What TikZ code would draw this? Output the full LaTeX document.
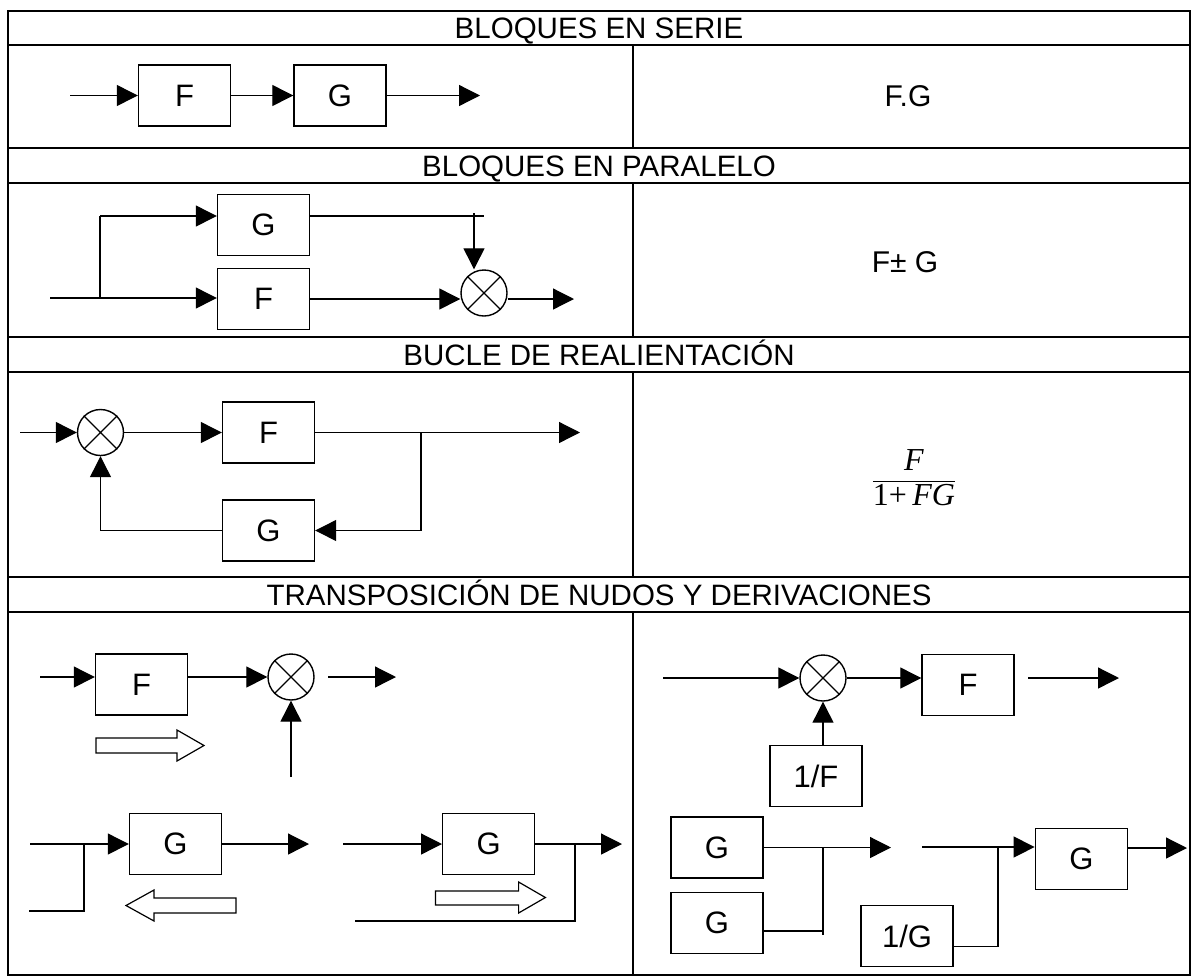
\documentclass[tikz,border=0pt]{standalone}
\usepackage{fontspec}
\setmainfont{Liberation Sans}
\newfontfamily\seriffont{Liberation Serif}
\usepackage{amsmath}
\usetikzlibrary{arrows.meta, positioning}
\tikzset{
  every node/.style={font=\fontsize{30}{35}\selectfont},
  % table rules and section titles
  grid/.style={line width=2pt},
  ttl/.style={anchor=base, font=\fontsize{29.5}{35}\selectfont},
  % diagram parts
  blk/.style={draw, line width=1.4pt, minimum width=92pt, minimum height=61pt,
              inner sep=0pt, font=\fontsize{31}{36}\selectfont},
  sum/.style={draw, circle, line width=1.4pt, minimum size=46pt, inner sep=0pt},
  sig/.style={line width=1.25pt},
  arr/.style={sig, -{Triangle[length=21pt, width=21pt]}},
  hollow/.style={draw, line width=1.2pt, fill=white},
}
\begin{document}
\begin{tikzpicture}[x=1pt, y=-1pt]
\useasboundingbox (0,0) rectangle (1196,978);

% table
\draw[grid] (8,11) rectangle (1190,975);
\foreach \y in {45,148,183,337,372,577,612}
  \draw[grid] (8,\y) -- (1190,\y);
\foreach \ya/\yb in {45/148, 183/337, 372/577, 612/975}
  \draw[grid] (633,\ya) -- (633,\yb);

\node[ttl] (t1) at (599,38.5)  {BLOQUES EN SERIE};
\node[ttl] (t2) at (599,176)   {BLOQUES EN PARALELO};
\node[ttl] (t3) at (599,365)   {BUCLE DE REALIENTACIÓN};
\node[ttl] (t4) at (599,605)   {TRANSPOSICIÓN DE NUDOS Y DERIVACIONES};

% serie
\node[blk] (f1) at (184.5,95.5) {F};
\node[blk] (g1) at (340,95.5) {G};
\coordinate (in1) at (70,95.5);
\coordinate (out1) at (480,95.5);
\draw[arr] (in1) -- (f1);
\draw[arr] (f1) -- (g1);
\draw[arr] (g1) -- (out1);
\node (r1) at (908,96) {F.G};

% paralelo
\node[blk] (g2) at (263.5,225) {G};
\node[blk] (f2) at (263.5,299) {F};
\node[sum] (s2) at (484,293) {};
\coordinate (in2) at (50,298);
\coordinate (b2) at (100,298);
\coordinate (b2t) at (100,216);
\coordinate (g2e) at (484,216);
\coordinate (tap2) at (474,213);
\coordinate (out2) at (574,299);
\draw[sig] (in2) -- (b2) -- (b2t);
\draw[arr] (b2) -- (b2 -| f2.west);
\draw[arr] (b2t) -- (b2t -| g2.west);
\draw[sig] (g2.east |- g2e) -- (g2e);
\draw[arr] (tap2) -- (tap2 |- s2.north);
\draw[arr] (f2.east) -- (f2.east -| s2.west);
\draw[arr] (s2.east |- out2) -- (out2);
\node (r2) at (905,262) {F± G};

% bucle
\coordinate (in3) at (20,432.5);
\node[sum] (s3) at (100.5,432.5) {};
\node[blk] (f3) at (268.5,432.5) {F};
\node[blk] (g3) at (268.5,530.5) {G};
\coordinate (b3) at (421,432.5);
\coordinate (out3) at (580,432.5);
\draw[arr] (in3) -- (s3);
\draw[arr] (s3) -- (f3);
\draw[arr] (f3) -- (out3);
\draw[arr] (b3) |- (g3);
\draw[arr] (g3) -| (s3);
\node (r3) at (914,478) {\fontsize{32}{38}\selectfont
  $\dfrac{\text{\seriffont\itshape F}}{\text{\seriffont 1+\,\itshape FG}}$};

% transposicion: nudo antes del bloque
\coordinate (in4) at (40,677);
\node[blk] (f4) at (141.5,684.5) {F};
\node[sum] (s4) at (291,677) {};
\coordinate (o4a) at (328,677);
\coordinate (o4b) at (396,677);
\coordinate (u4) at (291,777);
\draw[arr] (in4) -- (in4 -| f4.west);
\draw[arr] (f4.east |- in4) -- (s4);
\draw[arr] (o4a) -- (o4b);
\draw[arr] (u4) -- (s4);
\draw[hollow] (96,738) -- (177,738) -- (177,730) -- (204,745.5) -- (177,761) -- (177,753) -- (96,753) -- cycle;

% derivacion antes del bloque
\node[blk] (g4a) at (175.5,844) {G};
\coordinate (in4a) at (30,844);
\coordinate (b4a) at (84,844);
\coordinate (d4a) at (84,911);
\coordinate (l4a) at (29,911);
\coordinate (out4a) at (309,844);
\draw[arr] (in4a) -- (g4a);
\draw[sig] (l4a) -- (d4a) -- (b4a);
\draw[arr] (g4a) -- (out4a);
\draw[hollow] (236,898) -- (154,898) -- (154,890) -- (126,905.5) -- (154,921) -- (154,913) -- (236,913) -- cycle;

% derivacion despues del bloque
\node[blk] (g4b) at (488.7,844) {G};
\coordinate (in4b) at (343,844);
\coordinate (b4b) at (575,844);
\coordinate (d4b) at (575,921);
\coordinate (l4b) at (355,921);
\coordinate (out4b) at (622,844);
\draw[arr] (in4b) -- (g4b);
\draw[arr] (g4b) -- (out4b);
\draw[sig] (b4b) -- (d4b) -- (l4b);
\draw[hollow] (435.5,891) -- (518.6,891) -- (518.6,882) -- (545.4,897.5) -- (518.6,913) -- (518.6,905) -- (435.5,905) -- cycle;

% equivalentes
\coordinate (in5) at (663,678);
\node[sum] (s5) at (823,678) {};
\node[blk] (f5) at (968,685) {F};
\node[blk] (inv5) at (816,776) {1/F};
\coordinate (o5a) at (1028,678);
\coordinate (o5b) at (1119,678);
\draw[arr] (in5) -- (s5);
\draw[arr] (s5.east) -- (s5.east -| f5.west);
\draw[arr] (o5a) -- (o5b);
\draw[arr] (inv5.north -| s5) -- (s5);

\node[blk] (g5a) at (717,847.5) {G};
\node[blk] (g5b) at (717,923) {G};
\coordinate (out5a) at (891,847.5);
\coordinate (b5) at (823,847.5);
\coordinate (j5) at (823,931);
\coordinate (d5) at (823,935);
\draw[arr] (g5a) -- (out5a);
\draw[sig] (b5) -- (d5);
\draw[sig] (g5b.east |- j5) -- (j5);

\node[blk] (g5c) at (1081.3,859) {G};
\node[blk] (inv5c) at (907,936) {1/G};
\coordinate (in5c) at (922,847);
\coordinate (b5c) at (998,847);
\coordinate (k5) at (998,946.5);
\coordinate (out5c) at (1187,848);
\draw[arr] (in5c) -- (in5c -| g5c.west);
\draw[sig] (b5c) -- (k5) -- (k5 -| inv5c.east);
\draw[arr] (g5c.east |- out5c) -- (out5c);

\foreach \s in {s2,s3,s4,s5}
  \draw[sig] (\s.north west) -- (\s.south east) (\s.north east) -- (\s.south west);
\end{tikzpicture}
\end{document}
